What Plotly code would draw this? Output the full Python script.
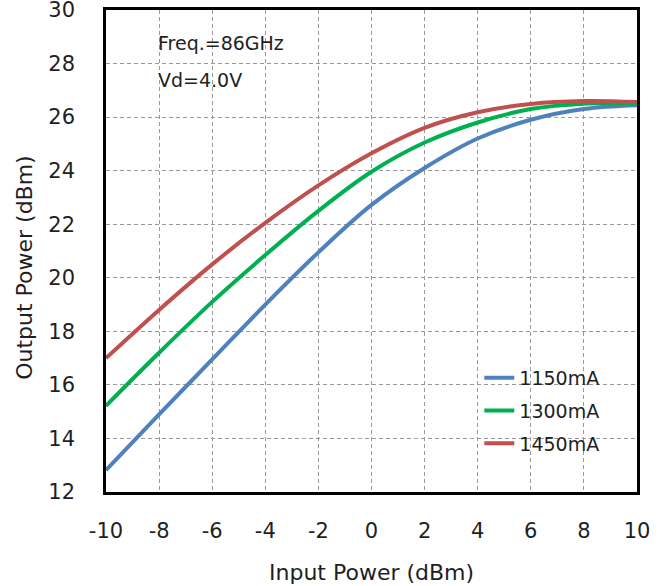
import plotly.graph_objects as go

# Input drive sweep (dBm)
pin = [-10, -8, -6, -4, -2, 0, 2, 4, 6, 8, 10]

# Output power (dBm) for each drain current setting
pout_1150 = [12.82, 14.9, 16.95, 19.0, 20.95, 22.72, 24.1, 25.2, 25.9, 26.3, 26.44]
pout_1300 = [15.22, 17.2, 19.1, 20.85, 22.5, 23.96, 25.05, 25.8, 26.3, 26.5, 26.5]
pout_1450 = [17.0, 18.8, 20.5, 22.05, 23.45, 24.65, 25.6, 26.18, 26.49, 26.6, 26.56]

series_names = ["1150mA", "1300mA", "1450mA"]
series_colors = ["#4F81BD", "#00B050", "#C0504D"]
series_values = [pout_1150, pout_1300, pout_1450]

x_ticks = list(range(-10, 11, 2))
x_tick_text = [str(v) for v in x_ticks]
y_ticks = list(range(12, 31, 2))

FONT = "DejaVu Sans"
TXT = "#1F1F1F"

fig = go.Figure()
for name, color, vals in zip(series_names, series_colors, series_values):
    fig.add_trace(go.Scatter(
        x=pin, y=vals, name=name, legendgroup=name, mode="lines",
        line=dict(color=color, width=4, shape="spline", smoothing=1.0),
    ))

axis_common = dict(
    showline=True, linecolor="black", linewidth=2.5, mirror=True,
    showgrid=True, gridcolor="#9A9A9A", gridwidth=1, griddash="4px,3px",
    zeroline=False, ticks="", automargin=False, ticklabeloverflow="allow",
    tickfont=dict(family=FONT, size=21, color=TXT),
)

fig.update_xaxes(range=[-10, 10], tickvals=x_ticks, ticktext=x_tick_text,
                 ticklabelstandoff=18, **axis_common)
fig.update_yaxes(range=[12, 30], tickvals=y_ticks, ticklabelstandoff=24, **axis_common)

# axis titles
fig.add_annotation(x=0.5, y=0, xref="paper", yref="paper", yshift=-80,
                   text="Input Power (dBm)", showarrow=False, yanchor="middle",
                   font=dict(family=FONT, size=22, color=TXT))
fig.add_annotation(x=0, y=0.465, xref="paper", yref="paper", xshift=-81,
                   text="Output Power (dBm)", showarrow=False, textangle=-90,
                   xanchor="center", yanchor="middle",
                   font=dict(family=FONT, size=22, color=TXT))

# test conditions
fig.add_annotation(x=-8.1, y=28.77, xref="x", yref="y", text="Freq.=86GHz", showarrow=False,
                   xanchor="left", yanchor="middle", font=dict(family=FONT, size=19, color=TXT))
fig.add_annotation(x=-8.1, y=27.38, xref="x", yref="y", text="Vd=4.0V", showarrow=False,
                   xanchor="left", yanchor="middle", font=dict(family=FONT, size=19, color=TXT))

fig.update_layout(
    width=665, height=586,
    margin=dict(l=106, r=28, t=10, b=94),
    paper_bgcolor="white", plot_bgcolor="white",
    showlegend=True,
    legend=dict(x=0.703, y=0.276, xanchor="left", yanchor="top",
                bgcolor="rgba(0,0,0,0)", font=dict(family=FONT, size=19, color=TXT),
                itemwidth=30, tracegroupgap=5),
)

fig.write_html("out.html")
